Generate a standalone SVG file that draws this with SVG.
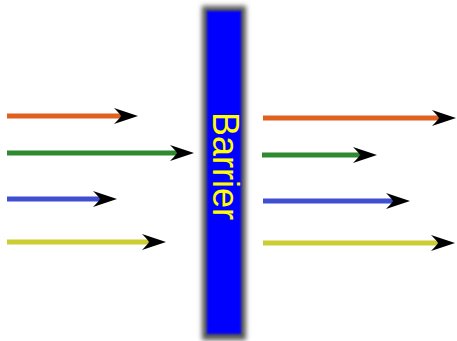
<svg xmlns="http://www.w3.org/2000/svg" width="457" height="341" viewBox="0 0 457 341">
<style>
.ar{stroke-width:5;fill:none;marker-end:url(#head)}
.o{stroke:#e0601e}.g{stroke:#2e8a2e}.b{stroke:#3f4fd2}.y{stroke:#cccc33}
.lbl{font-family:"Liberation Sans",Arial,sans-serif;font-size:36px;fill:#ffff00}
</style>
<defs>
<marker id="head" markerUnits="userSpaceOnUse" viewBox="0 -9 25 18" refX="7" refY="0" markerWidth="25" markerHeight="18" orient="auto">
<path d="M24,0 L0,-8 Q6,-2 7,0 Q6,2 0,8 Z" fill="#000"/>
</marker>
<filter id="blur" x="-30%" y="-10%" width="160%" height="120%"><feGaussianBlur stdDeviation="2.5"/></filter>
<filter id="blur2" x="-30%" y="-10%" width="160%" height="120%"><feGaussianBlur stdDeviation="1"/></filter>
</defs>
<g id="barrier">
<rect x="202" y="6" width="44" height="334" fill="#555" filter="url(#blur)"/>
<rect x="207" y="11" width="34" height="323" fill="#0000ff" filter="url(#blur2)"/>
<text class="lbl" text-anchor="middle" transform="translate(213,166) rotate(90)">Barrier</text>
</g>
<g id="connectors">
<path class="ar o" d="M7,116 H121"/>
<path class="ar g" d="M7,153 H177"/>
<path class="ar b" d="M7,199 H100"/>
<path class="ar y" d="M7,242 H149"/>
<path class="ar o" d="M263,118 H439"/>
<path class="ar g" d="M262,155 H360"/>
<path class="ar b" d="M263,201 H393"/>
<path class="ar y" d="M263,243 H438"/>
</g>
</svg>
